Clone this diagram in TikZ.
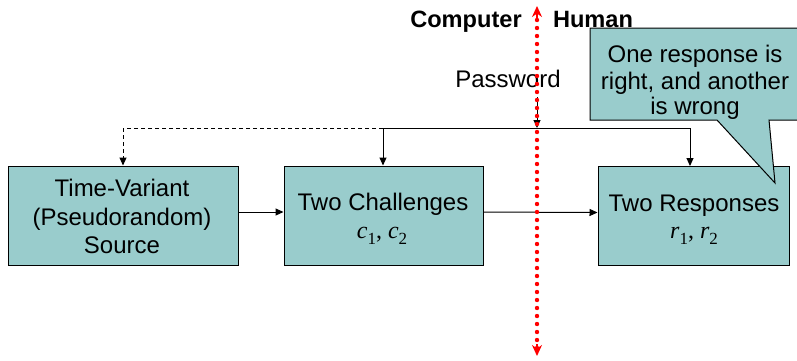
\documentclass[tikz,border=0pt]{standalone}
\usepackage{fontspec}
\setmainfont{Liberation Sans}
\newfontfamily\tms{Liberation Serif}
\usetikzlibrary{arrows.meta}
\definecolor{boxfill}{RGB}{153,204,204}
\newcommand\mvar[2]{{\tms\itshape #1}\raisebox{-0.28em}{\tms\fontsize{17}{17}\selectfont #2}}
\begin{document}
\begin{tikzpicture}[x=1pt,y=-1pt,
  box/.style={draw=black, line width=1pt, fill=boxfill, minimum width=#1, minimum height=99pt, inner sep=0pt},
  txt/.style={font=\fontsize{24}{28.5}\selectfont, anchor=base, inner sep=0pt},
  btxt/.style={font=\fontsize{23.6}{28}\selectfont\bfseries, anchor=base, inner sep=0pt},
  arr/.style={line width=1pt, -{Triangle[length=8pt,width=7pt]}},
  dashline/.style={line width=1pt, dash pattern=on 4pt off 3pt},
  redline/.style={red, line width=4.4pt, line cap=round, dash pattern=on 0pt off 8pt},
  redtip/.style={red, line width=1.5pt, -{Stealth[length=11pt,width=10pt,inset=3.5pt]}},
  callout/.style={draw=black, line width=1pt, fill=boxfill}
]
\clip (0,0) rectangle (797,360);
\fill[white] (0,0) rectangle (797,360);

% boxes
\node[box=230pt] (b1) at (123,215.5) {};
\node[box=199pt] (b2) at (383.5,215.5) {};
\node[box=191pt] (b3) at (693.5,216) {};

% box texts
\node[txt] (t1a) at (122,196) {Time-Variant};
\node[txt] (t1b) at (122,225) {(Pseudorandom)};
\node[txt] (t1c) at (122,253) {Source};
\node[txt] (t2a) at (383,210) {Two Challenges};
\node[txt] (t2b) at (382,238) {\mvar{c}{1}{\tms, }\mvar{c}{2}};
\node[txt] (t3a) at (694,211) {Two Responses};
\node[txt] (t3b) at (694,238) {\mvar{r}{1}{\tms, }\mvar{r}{2}};

% callout
\path[callout] (590,28) -- (805,28) -- (805,120) -- (769,120) -- (775,183) -- (717,120) -- (590,120) -- cycle;
\node[txt] (c1) at (695,62) {One response is};
\node[txt] (c2) at (695,89) {right, and another};
\node[txt] (c3) at (695,114.5) {is wrong};

% labels
\node[btxt] (comp) at (466,27) {Computer};
\node[btxt] (hum) at (593,27) {Human};
\node[txt] (pwd) at (508,87) {Password};

% connectors
\coordinate (jl) at (123,128);
\coordinate (jm) at (383,128);
\coordinate (jr) at (690,128);
\coordinate (pw) at (537,97);
\coordinate (pj) at (537,128);

\draw[dashline] (jm) -- (jl);
\draw[dashline, arr] (jl) -- (jl |- b1.north);
\draw[line width=1pt] (jm) -- (jr);
\draw[arr] (jm) -- (jm |- b2.north);
\draw[arr] (jr) -- (jr |- b3.north);
\draw[arr] (pw) -- (pj);
\draw[arr] ([yshift=3.5pt]b1.east) -- ([yshift=3.5pt]b2.west);
\draw[arr] ([yshift=3.5pt]b2.east) -- ([yshift=3.5pt]b3.west);

% red divider
\coordinate (rt) at (537,6);
\coordinate (rta) at (537,18);
\coordinate (rb) at (537,356);
\coordinate (rba) at (537,344);
\draw[redline] (537,20) -- (537,348);
\draw[redtip] (rta) -- (rt);
\draw[redtip] (rba) -- (rb);
\end{tikzpicture}
\end{document}
